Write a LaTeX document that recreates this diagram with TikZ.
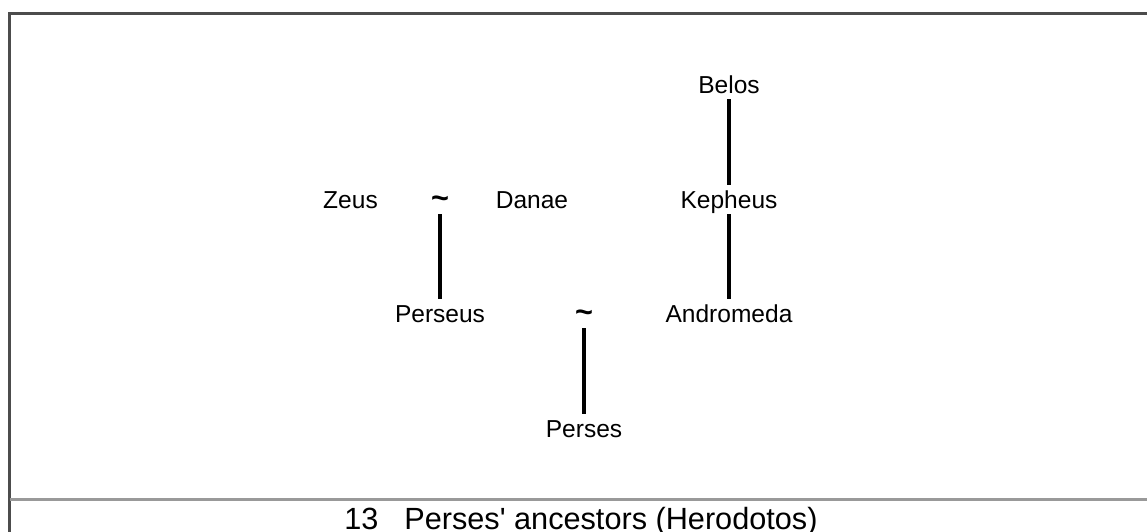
\documentclass[tikz,border=0pt]{standalone}
\usepackage{fontspec}
\setmainfont{Liberation Sans}[Ligatures=TeXOff]
\def\persons{{(350.5,208)/zeus/Zeus}, {(532,208)/danae/Danae}, {(729,93)/belos/Belos}, {(729,208)/kepheus/Kepheus}, {(440,322)/perseus/Perseus}, {(729,322)/andromeda/Andromeda}, {(584,437)/perses/Perses}}
\def\marriages{{(440,208)/zd}, {(584,322)/pa}}
\def\descent{zd/perseus, belos/kepheus, kepheus/andromeda, pa/perses}
\colorlet{frame edge}{black!70}
\colorlet{rule line}{black!40}
\tikzstyle{person}=[anchor=base, inner sep=0pt, text height=17.25pt, text depth=4.5pt, font=\fontsize{18.4}{20}\selectfont]
\tikzstyle{marriage}=[person, font=\fontsize{23}{24}\selectfont\bfseries]
\tikzstyle{line}=[draw, line width=2.3pt, -]
\tikzstyle{caption}=[anchor=base west, inner sep=0pt, font=\fontsize{23}{26}\selectfont]
\begin{document}
\begin{tikzpicture}[x=0.75pt, y=-0.75pt]

  % Page and frame
  \useasboundingbox (0,0) rectangle (1147,532);
  \clip (0,0) rectangle (1147,532);
  \draw[frame edge, line width=1.9pt] (9.5,532) -- (9.5,13.5) -- (1147,13.5);
  \draw[rule line, line width=2.2pt] (9.5,499.5) -- (1147,499.5);

  % The persons
  \foreach \pos/\name/\label in \persons
    \node[person] (\name) at \pos {\label};
  % the marriages
  \foreach \pos/\name in \marriages
    \node[marriage] (\name) at \pos {\textasciitilde};

  % Who descends from whom
  \foreach \source/\sink in \descent
    \path[line] (\source.south) -- (\sink.north);

  % Caption
  \node[caption] (title) at (344,529) {13\hspace{19.5pt}Perses' ancestors (Herodotos)};
\end{tikzpicture}
\end{document}
